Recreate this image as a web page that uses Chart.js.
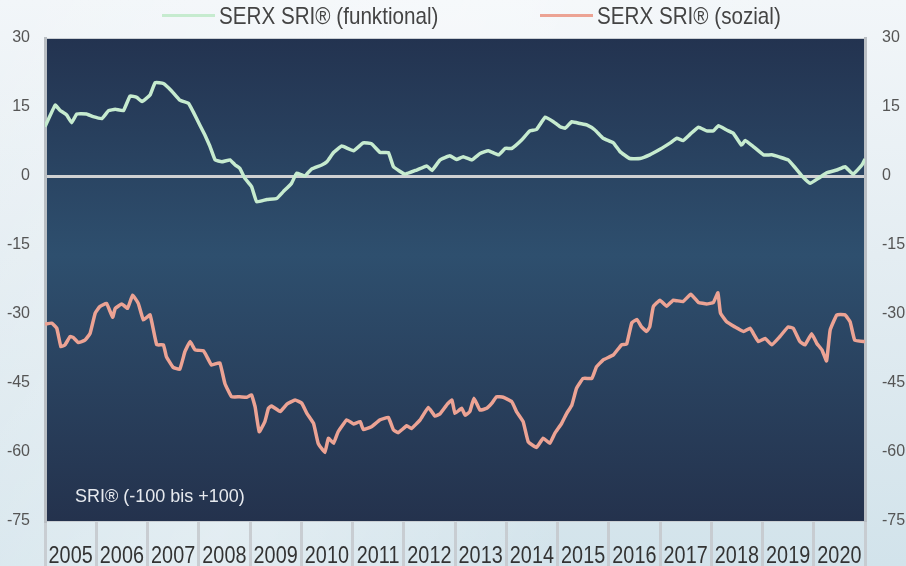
<!DOCTYPE html>
<html>
<head>
<meta charset="utf-8">
<script src="https://cdn.jsdelivr.net/npm/chart.js@4.4.1/dist/chart.umd.min.js"></script>
<style>
    html, body { margin: 0; padding: 0; }
    body {
        width: 906px; height: 566px; overflow: hidden;
        background:
            linear-gradient(115deg, rgba(255,255,255,0.0) 0%, rgba(255,255,255,0.35) 40%, rgba(255,255,255,0) 70%),
            linear-gradient(180deg, #f2f6f9 0%, #e4edf2 45%, #d2e3eb 100%);
    }
    #myChart { display: block; }
</style>
</head>
<body>
<canvas id="myChart" width="906" height="566"></canvas>
<script>
// Jahre (Achsenbeschriftung) und Skala
const years = ['2005', '2006', '2007', '2008', '2009', '2010', '2011', '2012',
    '2013', '2014', '2015', '2016', '2017', '2018', '2019', '2020'];
const yTicks = [30, 15, 0, -15, -30, -45, -60, -75];

const funktionalDates = [2005.00, 2005.20, 2005.29, 2005.42, 2005.52, 2005.62, 2005.81, 2005.94, 2006.11, 2006.24,
    2006.37, 2006.53, 2006.66, 2006.79, 2006.89, 2007.05, 2007.15, 2007.31, 2007.47, 2007.63,
    2007.80, 2007.89, 2008.02, 2008.12, 2008.22, 2008.32, 2008.45, 2008.61, 2008.71, 2008.80,
    2008.90, 2009.03, 2009.13, 2009.33, 2009.52, 2009.65, 2009.81, 2009.91, 2010.07, 2010.20,
    2010.40, 2010.50, 2010.63, 2010.79, 2011.02, 2011.21, 2011.37, 2011.54, 2011.70, 2011.80,
    2012.02, 2012.25, 2012.45, 2012.55, 2012.71, 2012.90, 2013.03, 2013.16, 2013.33, 2013.49,
    2013.65, 2013.85, 2013.98, 2014.11, 2014.30, 2014.46, 2014.59, 2014.76, 2014.92, 2015.05,
    2015.15, 2015.28, 2015.44, 2015.57, 2015.73, 2015.89, 2016.09, 2016.22, 2016.41, 2016.61,
    2016.80, 2017.00, 2017.20, 2017.33, 2017.45, 2017.59, 2017.75, 2017.91, 2018.04, 2018.14,
    2018.30, 2018.43, 2018.59, 2018.66, 2018.82, 2019.02, 2019.18, 2019.34, 2019.50, 2019.63,
    2019.77, 2019.93, 2020.09, 2020.25, 2020.45, 2020.61, 2020.77, 2020.94, 2021.00];
const funktionalValues = [10.7, 15.4, 14.3, 13.3, 11.6, 13.5, 13.5, 12.9, 12.5, 14.2,
    14.5, 14.2, 17.4, 17.1, 16.2, 17.6, 20.3, 20.1, 18.5, 16.5,
    15.8, 14.0, 11.1, 8.9, 6.4, 3.5, 3.1, 3.5, 2.4, 1.7,
    -0.5, -2.3, -5.6, -5.1, -4.9, -3.4, -1.6, 0.6, 0, 1.5,
    2.4, 3.1, 5.1, 6.5, 5.5, 7.2, 7.0, 5.1, 5.1, 2.0,
    0.4, 1.3, 2.2, 1.2, 3.5, 4.4, 3.6, 4.2, 3.5, 4.9,
    5.5, 4.6, 6.0, 6.0, 7.8, 9.8, 10.1, 12.8, 11.8, 10.7,
    10.4, 11.8, 11.4, 11.1, 10.0, 8.2, 7.2, 5.3, 3.8, 3.8,
    4.6, 5.8, 7.2, 8.2, 7.7, 9.1, 10.6, 9.8, 9.8, 10.9,
    10.0, 9.3, 6.7, 7.7, 6.4, 4.6, 4.6, 4.1, 3.5, 1.9,
    0, -1.6, -0.5, 0.7, 1.3, 2.0, 0.4, 2.4, 3.7];

const sozialDates = [2005.00, 2005.13, 2005.23, 2005.31, 2005.39, 2005.49, 2005.55, 2005.65, 2005.78, 2005.88,
    2005.98, 2006.07, 2006.20, 2006.32, 2006.37, 2006.50, 2006.61, 2006.71, 2006.82, 2006.92,
    2007.05, 2007.18, 2007.31, 2007.37, 2007.50, 2007.63, 2007.73, 2007.83, 2007.93, 2008.09,
    2008.16, 2008.25, 2008.41, 2008.51, 2008.64, 2008.80, 2008.94, 2009.03, 2009.10, 2009.18,
    2009.29, 2009.36, 2009.42, 2009.59, 2009.72, 2009.88, 2010.01, 2010.11, 2010.24, 2010.33,
    2010.46, 2010.53, 2010.63, 2010.72, 2010.89, 2011.02, 2011.15, 2011.21, 2011.37, 2011.54,
    2011.70, 2011.80, 2011.89, 2012.06, 2012.15, 2012.32, 2012.48, 2012.61, 2012.71, 2012.85,
    2012.94, 2013.00, 2013.13, 2013.20, 2013.29, 2013.37, 2013.49, 2013.62, 2013.72, 2013.81,
    2013.94, 2014.11, 2014.20, 2014.33, 2014.43, 2014.59, 2014.72, 2014.85, 2014.95, 2015.08,
    2015.18, 2015.28, 2015.37, 2015.50, 2015.67, 2015.76, 2015.89, 2016.09, 2016.25, 2016.35,
    2016.45, 2016.55, 2016.64, 2016.74, 2016.80, 2016.87, 2017.00, 2017.13, 2017.26, 2017.45,
    2017.60, 2017.75, 2017.91, 2018.04, 2018.13, 2018.18, 2018.30, 2018.46, 2018.63, 2018.76,
    2018.82, 2018.92, 2019.05, 2019.18, 2019.34, 2019.50, 2019.60, 2019.73, 2019.83, 2019.96,
    2020.06, 2020.16, 2020.25, 2020.32, 2020.45, 2020.61, 2020.71, 2020.80, 2021.00];
const sozialValues = [-32.2, -32.0, -33.1, -37.1, -36.7, -34.9, -35.1, -36.2, -35.7, -34.2,
    -29.8, -28.4, -27.7, -30.7, -28.8, -27.8, -28.8, -25.9, -27.7, -31.3,
    -30.2, -36.7, -36.7, -39.3, -41.6, -42.0, -38.2, -36.0, -37.8, -38.0,
    -39.3, -41.1, -40.6, -45.1, -48.0, -48.0, -48.1, -47.6, -50.2, -55.6,
    -53.4, -50.5, -50.0, -51.2, -49.6, -48.7, -49.4, -51.6, -53.8, -58.1,
    -60.1, -57.0, -58.1, -55.6, -53.0, -53.9, -53.4, -55.1, -54.5, -53.0,
    -52.5, -55.2, -55.8, -54.3, -54.9, -53.0, -50.3, -52.2, -51.7, -49.6,
    -48.7, -51.6, -50.5, -52.0, -51.2, -48.3, -50.9, -50.5, -49.4, -48.0,
    -48.1, -49.1, -51.2, -53.4, -57.8, -59.0, -57.0, -58.1, -55.9, -53.8,
    -51.6, -49.8, -46.2, -44.0, -44.0, -41.5, -40.0, -38.9, -36.7, -36.5,
    -31.9, -31.2, -32.8, -33.8, -32.8, -28.4, -27.0, -28.3, -27.0, -27.3,
    -25.7, -27.5, -27.8, -27.5, -25.4, -29.8, -31.7, -32.8, -33.8, -33.1,
    -34.2, -36.0, -35.3, -36.7, -34.9, -32.8, -33.1, -36.0, -36.7, -34.3,
    -36.4, -37.8, -40.2, -33.5, -30.2, -30.2, -31.7, -35.7, -36.0];

const FONT = "'Liberation Sans', Arial, sans-serif";
const NARROW = 0.86; // schmale Schrift nachbilden

const toPoints = (dates, values) => dates.map((d, i) => ({ x: d, y: values[i] }));

// schmaler Text: horizontal gestaucht zeichnen
function narrowText(ctx, text, x, y, align) {
    ctx.save();
    ctx.translate(x, y);
    ctx.scale(NARROW, 1);
    ctx.textAlign = align;
    ctx.fillText(text, 0, 0);
    ctx.restore();
}

// Hintergrund der Zeichenfläche + Beschriftung unten links
const plotBackground = {
    id: 'plotBackground',
    beforeDraw(chart) {
        const { ctx, chartArea: a } = chart;
        const g = ctx.createLinearGradient(0, a.top, 0, a.bottom);
        g.addColorStop(0, '#233350');
        g.addColorStop(0.45, '#2e4f6e');
        g.addColorStop(1, '#24324d');
        ctx.save();
        ctx.fillStyle = g;
        ctx.fillRect(a.left, a.top, a.right - a.left, a.bottom - a.top);
        ctx.strokeStyle = '#c9ced3';
        ctx.lineWidth = 1;
        ctx.beginPath();
        ctx.moveTo(a.left, a.top + 0.5);
        ctx.lineTo(a.right, a.top + 0.5);
        ctx.stroke();
        ctx.restore();
    },
    afterDraw(chart) {
        const { ctx, chartArea: a } = chart;
        ctx.save();
        ctx.font = "18px " + FONT;
        ctx.fillStyle = '#e6e9ee';
        ctx.textBaseline = 'middle';
        ctx.fillText('SRI® (-100 bis +100)', a.left + 30, a.bottom - 24);

        // Jahreszahlen unter der Achse
        const s = chart.scales.years;
        ctx.font = "23px " + FONT;
        ctx.fillStyle = '#333';
        ctx.textBaseline = 'alphabetic';
        s.ticks.forEach((t, i) => {
            narrowText(ctx, s.getLabelForValue(t.value), s.getPixelForTick(i), 563, 'center');
        });
        ctx.restore();
    }
};

// Legende oben
const topLegend = {
    id: 'topLegend',
    afterDraw(chart) {
        const { ctx } = chart;
        const startX = [162, 540];
        ctx.save();
        ctx.font = "24px " + FONT;
        ctx.textBaseline = 'middle';
        chart.data.datasets.forEach((ds, i) => {
            ctx.strokeStyle = ds.borderColor;
            ctx.lineWidth = 3;
            ctx.beginPath();
            ctx.moveTo(startX[i], 15.5);
            ctx.lineTo(startX[i] + 53, 15.5);
            ctx.stroke();
            ctx.fillStyle = '#444';
            narrowText(ctx, ds.label, startX[i] + 57, 17, 'left');
        });
        ctx.restore();
    }
};

const ctx = document.getElementById('myChart').getContext('2d');
new Chart(ctx, {
    type: 'line',
    data: {
        datasets: [{
            label: 'SERX SRI® (funktional)',
            data: toPoints(funktionalDates, funktionalValues),
            borderColor: '#c6ebcf',
            backgroundColor: '#c6ebcf',
            borderWidth: 3.5,
            pointRadius: 0,
            tension: 0.1,
            xAxisID: 'x',
            yAxisID: 'y'
        }, {
            label: 'SERX SRI® (sozial)',
            data: toPoints(sozialDates, sozialValues),
            borderColor: '#eca394',
            backgroundColor: '#eca394',
            borderWidth: 3.5,
            pointRadius: 0,
            tension: 0.1,
            xAxisID: 'x',
            yAxisID: 'y'
        }]
    },
    options: {
        responsive: false,
        animation: false,
        devicePixelRatio: 1,
        layout: { padding: { top: 38, left: 0, right: 0, bottom: 0 } },
        plugins: {
            legend: { display: false },
            tooltip: { enabled: false }
        },
        scales: {
            x: {
                type: 'linear',
                min: 2005,
                max: 2021,
                display: false
            },
            years: {
                type: 'category',
                position: 'bottom',
                labels: years,
                offset: true,
                grid: {
                    offset: true,
                    drawOnChartArea: false,
                    drawTicks: true,
                    tickLength: 45,
                    tickWidth: 3,
                    tickColor: 'rgba(196,200,204,0.85)'
                },
                border: { display: true, color: '#c9ced3', width: 1 },
                ticks: { display: false, autoSkip: false, maxRotation: 0 },
                afterFit(scale) { scale.height = 45; }
            },
            y: {
                position: 'left',
                min: -75,
                max: 30,
                afterBuildTicks(scale) { scale.ticks = yTicks.map(v => ({ value: v })); },
                grid: {
                    drawTicks: false,
                    lineWidth: 3,
                    color: c => c.tick && c.tick.value === 0 ? '#cfd1d3' : 'rgba(0,0,0,0)'
                },
                border: { display: true, color: '#b9bec3', width: 3 },
                ticks: {
                    padding: 15,
                    color: '#555',
                    font: { family: FONT, size: 16 }
                },
                afterFit(scale) { scale.width = 45; }
            },
            y2: {
                position: 'right',
                min: -75,
                max: 30,
                afterBuildTicks(scale) { scale.ticks = yTicks.map(v => ({ value: v })); },
                grid: { display: false, drawTicks: false },
                border: { display: true, color: '#b9bec3', width: 3 },
                ticks: {
                    padding: 17,
                    color: '#555',
                    font: { family: FONT, size: 16 }
                },
                afterFit(scale) { scale.width = 41; }
            }
        }
    },
    plugins: [plotBackground, topLegend]
});
</script>
</body>
</html>
